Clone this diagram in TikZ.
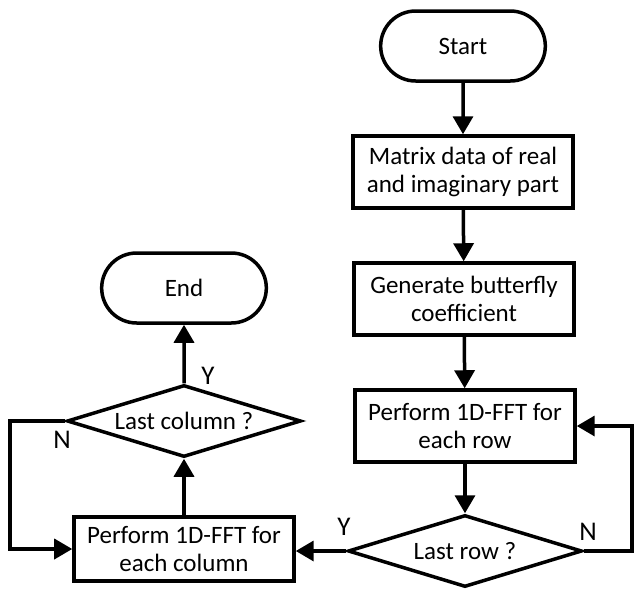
\documentclass[tikz,border=0pt]{standalone}
\usepackage{fontspec}
\setmainfont{Carlito}
\usetikzlibrary{arrows.meta, shapes.geometric, shapes.misc}

\tikzset{
  process/.style={draw, line width=1.75pt, minimum width=110pt, minimum height=36pt, align=center, inner sep=2pt},
  terminal/.style={draw, line width=1.75pt, rounded rectangle, minimum width=89pt, minimum height=35pt},
  decision/.style={draw, line width=1.75pt, diamond, shape aspect=3.25, inner sep=0pt, minimum width=117pt, minimum height=36pt},
  flow/.style={line width=1.75pt, -{Triangle[length=9pt, width=10pt]}},
  answer/.style={font=\fontsize{13.5}{16}\selectfont},
}

\begin{document}
\begin{tikzpicture}[x=0.5pt, y=-0.5pt, font=\fontsize{12.5}{14}\selectfont]
	\useasboundingbox (0,0) rectangle (634,596);

	\node (start) [terminal] at (463,46) {Start};
	\node (matrix) [process] at (463,172) {Matrix data of real\\and imaginary part};
	\node (butterfly) [process] at (464,299) {Generate butterfly\\coefficient};
	\node (rowfft) [process] at (465,426) {Perform 1D-FFT for\\each row};
	\node (lastrow) [decision] at (465,551) {Last row ?};
	\node (colfft) [process, minimum height=32pt] at (184,549) {Perform 1D-FFT for\\each column};
	\node (lastcol) [decision] at (184,421) {Last column ?};
	\node (end) [terminal] at (184,288) {End};

	\coordinate (rightturn) at (632,551);
	\coordinate (leftturn) at (10,421);

	\node (yrow) [answer] at (344,527) {Y};
	\node (nrow) [answer] at (588,532) {N};
	\node (ycol) [answer] at (208,376) {Y};
	\node (ncol) [answer] at (62,440) {N};

	\draw [flow] (start) -- (matrix);
	\draw [flow] (matrix) -- (butterfly);
	\draw [flow] (butterfly) -- (rowfft);
	\draw [flow] (rowfft) -- (lastrow);
	\draw [flow] (lastrow.west) -- (lastrow.west -| colfft.east);
	\draw [flow] (lastrow.east) -- (rightturn) |- (rowfft.east);
	\draw [flow] (colfft) -- (lastcol);
	\draw [flow] (lastcol) -- (end);
	\draw [flow] (lastcol.west) -- (leftturn) |- (colfft.west);
\end{tikzpicture}
\end{document}
